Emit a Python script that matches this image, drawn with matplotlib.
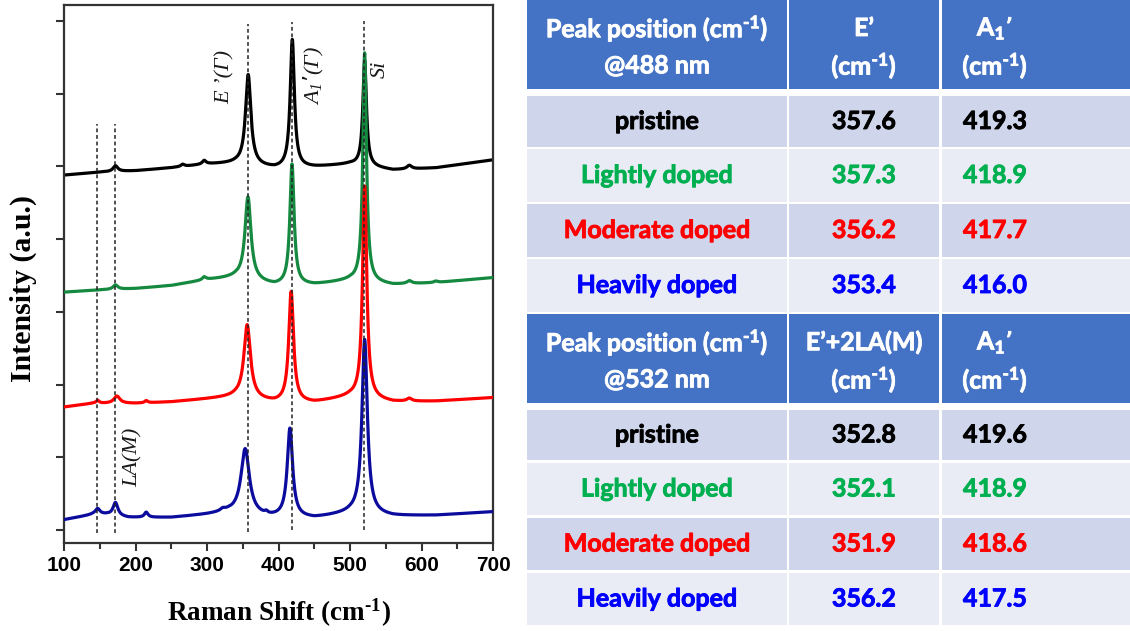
import numpy as np
import matplotlib.pyplot as plt
import matplotlib.patheffects as pe
from matplotlib.patches import Rectangle
from matplotlib.ticker import MultipleLocator

plt.rcParams['mathtext.default'] = 'regular'

# ---- spectra (offset units, 1 unit = one y tick) ----
# peaks: (position cm-1, height above baseline, FWHM)
black_base = [(100, 4.88), (150, 4.92), (200, 4.94), (250, 4.98), (300, 5.03), (340, 5.04),
              (395, 4.97), (450, 4.99), (500, 5.03), (560, 4.95), (620, 4.98), (700, 5.09)]
black_peaks = [(172, 0.08, 8), (266, 0.03, 6), (296, 0.05, 6), (357.6, 1.24, 9),
               (419.3, 1.76, 7), (520.5, 1.45, 6), (583, 0.05, 8)]

green_base = [(100, 3.27), (150, 3.30), (200, 3.32), (250, 3.36), (300, 3.44), (340, 3.47),
              (395, 3.36), (450, 3.37), (500, 3.43), (560, 3.37), (620, 3.40), (700, 3.47)]
green_peaks = [(172, 0.06, 8), (296, 0.04, 6), (357.3, 1.14, 10), (418.9, 1.66, 7),
               (520.5, 3.15, 6), (583, 0.04, 8), (620, 0.02, 6)]

red_base = [(100, 1.69), (140, 1.74), (160, 1.74), (200, 1.74), (250, 1.76), (300, 1.80),
            (340, 1.83), (395, 1.75), (450, 1.75), (500, 1.83), (560, 1.76), (620, 1.77), (700, 1.82)]
red_peaks = [(147, 0.04, 5), (174, 0.10, 10), (215, 0.03, 5), (356.2, 1.01, 11),
             (417.7, 1.52, 8), (520.5, 2.92, 7), (583, 0.04, 8)]

blue_base = [(100, 0.14), (140, 0.21), (160, 0.21), (190, 0.17), (250, 0.17), (300, 0.21),
             (330, 0.24), (385, 0.17), (450, 0.16), (500, 0.23), (560, 0.19), (620, 0.20), (700, 0.25)]
blue_peaks = [(147, 0.08, 8), (172, 0.18, 8), (215, 0.07, 6), (322, 0.03, 8), (353.4, 0.90, 14),
              (383, 0.03, 5), (416.0, 1.22, 9), (520.5, 2.40, 9)]

spectra = [(black_base, black_peaks, '#000000'),
           (green_base, green_peaks, '#14893f'),
           (red_base, red_peaks, '#ff0000'),
           (blue_base, blue_peaks, '#0b0b9e')]

guide_lines = [(146.6, -0.04, 5.58), (171.8, -0.04, 5.58), (357.0, -0.03, 6.96),
               (418.5, 0.0, 6.98), (519.8, 0.0, 7.0)]

# ---- table values ----
samples = ['pristine', 'Lightly doped', 'Moderate doped', 'Heavily doped']
sample_colors = ['#000000', '#00b050', '#ff0000', '#0000ff']
e_488 = [357.6, 357.3, 356.2, 353.4]
a1_488 = [419.3, 418.9, 417.7, 416.0]
e_532 = [352.8, 352.1, 351.9, 356.2]
a1_532 = [419.6, 418.9, 418.6, 417.5]

INV = '$^{\u20101}$'  # short hyphen superscript, like the original "-1"


def make_curve(x, base, peaks):
    bx, by = zip(*base)
    y = np.interp(x, bx, by)
    for c, h, w in peaks:
        y = y + h / (1 + ((x - c) / (w / 2)) ** 2)
    return y


fig = plt.figure(figsize=(11.3, 6.31), dpi=100)
ax = fig.add_axes([64 / 1130, 88 / 631, 429 / 1130, 538 / 631])

x = np.linspace(100, 700, 2401)
for i, (base, peaks, col) in enumerate(spectra):
    ax.plot(x, make_curve(x, base, peaks), color=col, lw=2.3, zorder=2 + i)

for xv, y0, y1 in guide_lines:
    ax.vlines(xv, y0, y1, colors='#222222', linestyles=(0, (2.5, 1.8)), lw=1.1, zorder=10)

lab_kw = dict(rotation=90, ha='center', va='center', family='Liberation Serif',
              style='italic', fontsize=16, color='#1a1a1a')
ax.text(325, 6.23, 'E ’(Γ)', **lab_kw)
ax.text(448.5, 6.25, 'A$_1$’(Γ)', **lab_kw)
ax.text(542, 6.33, 'Si', **lab_kw)
ax.text(197, 1.0, 'LA(M)', **lab_kw)

ax.set_xlim(100, 700)
ax.set_ylim(-0.18, 7.22)
ax.xaxis.set_major_locator(MultipleLocator(100))
ax.xaxis.set_minor_locator(MultipleLocator(50))
ax.set_yticks(range(8))
ax.set_yticklabels([])
ax.tick_params(which='both', direction='out', width=1.5, colors='#333333', labelcolor='black')
ax.tick_params(which='major', length=6)
ax.tick_params(which='minor', length=4)
ax.tick_params(axis='y', length=6)
for lbl in ax.get_xticklabels():
    lbl.set_family('Liberation Sans')
    lbl.set_weight('bold')
    lbl.set_fontsize(15)
for sp in ax.spines.values():
    sp.set_linewidth(1.6)
    sp.set_color('#333333')
ax.set_xlabel('Raman Shift (cm' + INV + ')', family='Liberation Serif', weight='bold',
              fontsize=19.5, va='center')
ax.xaxis.set_label_coords(0.5, -70 / 538)
ax.set_ylabel('Intensity (a.u.)', family='Liberation Serif', weight='bold', fontsize=21.5,
              va='center')
ax.yaxis.set_label_coords(-41 / 429, (543 - 288) / 538)

# ---- table on the right, in pixel coordinates ----
tax = fig.add_axes([0, 0, 1, 1])
tax.set_xlim(0, 1130)
tax.set_ylim(631, 0)
tax.axis('off')
tax.set_zorder(-1)

cols = [(527, 787), (789, 939), (942, 1130)]
col_cx = [657, 864, 995]
head_blue = '#4472c4'
row_fill = ['#cfd5ea', '#e9ebf5']


def cell_text(cx, cy, s, color):
    tax.text(cx, cy, s, ha='center', va='center', color=color, family='Lato',
             weight='bold', fontsize=18,
             path_effects=[pe.withStroke(linewidth=0.6, foreground=color)])


def draw_block(head_top, head_bot, row_spans, laser, col2_name, e_vals, a_vals):
    for c0, c1 in cols:
        tax.add_patch(Rectangle((c0, head_top), c1 - c0, head_bot - head_top, color=head_blue, lw=0))
    l1 = head_top + (head_bot - head_top) * 0.32
    l2 = head_top + (head_bot - head_top) * 0.74
    cell_text(col_cx[0], l1, 'Peak position (cm' + INV + ')', 'white')
    cell_text(col_cx[0], l2, '@' + laser, 'white')
    cell_text(col_cx[1], l1, col2_name, 'white')
    cell_text(col_cx[1], l2, '(cm' + INV + ')', 'white')
    cell_text(col_cx[2], l1, 'A$_1$’', 'white')
    cell_text(col_cx[2], l2, '(cm' + INV + ')', 'white')
    for k, (r0, r1) in enumerate(row_spans):
        for c0, c1 in cols:
            tax.add_patch(Rectangle((c0, r0), c1 - c0, r1 - r0, color=row_fill[k % 2], lw=0))
        cy = (r0 + r1) / 2
        tc = sample_colors[k]
        cell_text(col_cx[0], cy, samples[k], tc)
        cell_text(col_cx[1], cy, f'{e_vals[k]:.1f}', tc)
        cell_text(col_cx[2], cy, f'{a_vals[k]:.1f}', tc)


draw_block(0, 89, [(96, 147), (149, 202), (204, 257), (259, 312)],
           '488 nm', 'E’', e_488, a1_488)
draw_block(314, 403, [(410, 460), (463, 515), (518, 570), (573, 625)],
           '532 nm', 'E’+2LA(M)', e_532, a1_532)

fig.savefig('out.png', dpi=100)
